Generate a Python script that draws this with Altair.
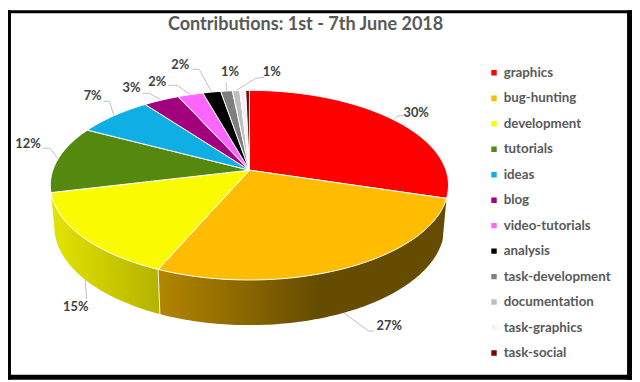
import math
import altair as alt

# ---- chart values
categories = ["graphics", "bug-hunting", "development", "tutorials", "ideas", "blog",
              "video-tutorials", "analysis", "task-development", "documentation",
              "task-graphics", "task-social"]
shares = [29.7, 26.8, 14.75, 11.45, 7.1, 3.4, 2.4, 1.7, 1.1, 0.7, 0.55, 0.35]
label_texts = ["30%", "27%", "15%", "12%", "7%", "3%", "2%", "2%", "1%", "1%"]
colors = ["#FF0000", "#FFBC00", "#FAFA00", "#54880F", "#0FAFE6", "#A3007E",
          "#FF66FF", "#000000", "#7F7F7F", "#BFBFBF", "#F2F2F2", "#7F0000"]
title_text = "Contributions: 1st - 7th June 2018"

# ---- layout of the tilted disc (page pixels)
OX, OY = 250.5, 168.0
A, B, K = 197.5, 92.6, 0.158
BX, BY0, BP = 0.98, 208.8, 1.04
M = 8
SX, SY = 0.992, 0.989   # the photographed page comes out slightly shrunk

def top(theta):
    t = math.radians(theta)
    w = 1 + K * math.cos(t)
    return (OX + A * math.sin(t) / w, OY - B * math.cos(t) / w)

def bottom(theta):
    t = math.radians(theta)
    w = 1 + K * math.cos(t)
    return (OX + BX * A * math.sin(t) / w, BY0 - BP * B * math.cos(t) / w)

def loc(p):
    return [p[0] / SX - M, p[1] / SY - M]

def arc(fn, a, b, step=1.0):
    n = max(2, int(abs(b - a) / step) + 1)
    return [fn(a + (b - a) * i / (n - 1)) for i in range(n)]

edges = [0.0]
for s in shares:
    edges.append(edges[-1] + s * 3.6 * 100 / sum(shares))

def feature(kind, pts, name=None):
    coords = [loc(p) for p in pts]
    geom = ({"type": "Polygon", "coordinates": [coords + [coords[0]]]} if kind == "poly"
            else {"type": "LineString", "coordinates": coords})
    return {"type": "Feature", "geometry": geom, "properties": {"name": name}}

def geo(features):
    return alt.InlineData(values={"type": "FeatureCollection", "features": features},
                          format=alt.DataFormat(type="json", property="features"))

projection = alt.Projection(type="identity", scale=1, translate=[0, 0])

# slices
slices = [feature("poly", [(OX, OY)] + arc(top, edges[i], edges[i + 1]), categories[i])
          for i in range(len(categories))]
slice_layer = alt.Chart(geo(slices)).mark_geoshape(stroke="#FFFFFF", strokeWidth=1).encode(
    color=alt.Color("properties.name:N",
                    scale=alt.Scale(domain=categories, range=colors),
                    sort=categories,
                    legend=alt.Legend(title=None, orient="none", legendX=485.5, legendY=55.5,
                                      symbolType="square", symbolSize=30, symbolStrokeWidth=0,
                                      labelFont="Lato", labelFontWeight="bold", labelFontSize=13.5,
                                      labelColor="#595959", rowPadding=9.8, labelOffset=3,
                                      clipHeight=15.5, columns=1)))

def wall(a, b):
    return feature("poly", arc(top, a, b) + arc(bottom, a, b)[::-1])

def grad(stops):
    return alt.LinearGradient(gradient="linear", x1=0, y1=0, x2=1, y2=0,
                              stops=[alt.GradientStop(offset=o, color=c) for o, c in stops])

yellow_wall = alt.Chart(geo([wall(edges[2], edges[3])])).mark_geoshape(
    fill=grad([(0, "#E4E400"), (1, "#B3B300")]), strokeWidth=0)
orange_wall = alt.Chart(geo([wall(edges[1], edges[2])])).mark_geoshape(
    fill=grad([(0, "#B38600"), (0.55, "#664C00"), (1, "#664C00")]), strokeWidth=0)
seam = alt.Chart(geo([feature("line", [top(edges[2]), bottom(edges[2])])])).mark_geoshape(
    filled=False, stroke="#F4F4E0", strokeWidth=1)

# leader lines and value labels
mids = [(edges[i] + edges[i + 1]) / 2 for i in range(len(label_texts))]
anchors = [bottom(m) if 90 < m < 257 else top(m) for m in mids]
label_pos = [(418, 110.5), (391, 324), (76, 305), (28, 142), (93, 94),
             (132, 86), (158, 79.5), (181, 63), (231, 70), (273, 70)]
knees = [(399, 114), (370, 329), (87, 297), (50, 146), (110, 99),
         (150, 91), (178, 83), (200, 67), (227, 80), (257, 76)]
ends = [(405, 113), (376, 329), (87, 297), (43, 146), (104, 99),
        (143, 91), (169, 83), (193, 67), (227, 80), (265, 75)]

leaders = [feature("line", [anchors[i], knees[i], ends[i]]) for i in range(len(label_texts))]
leader_layer = alt.Chart(geo(leaders)).mark_geoshape(filled=False, stroke="#BFBFBF", strokeWidth=1)

label_rows = [dict(t=label_texts[i], lon=loc(label_pos[i])[0], lat=loc(label_pos[i])[1])
              for i in range(len(label_texts))]
label_layer = alt.Chart(alt.Data(values=label_rows)).mark_text(
    font="Lato", fontWeight="bold", fontSize=13, color="#404040").encode(
    longitude="lon:Q", latitude="lat:Q", text="t:N")

# picture frame
frame_rows = [dict(x=0, x2=3, y=0, y2=374), dict(x=0, x2=632, y=0, y2=3),
              dict(x=627, x2=632, y=0, y2=374), dict(x=0, x2=632, y=369, y2=374)]
frame = alt.Chart(alt.Data(values=frame_rows)).mark_rect(color="#000000").encode(
    x=alt.X("x:Q", scale=None), x2="x2:Q", y=alt.Y("y:Q", scale=None), y2="y2:Q")

chart = alt.layer(frame, leader_layer, yellow_wall, orange_wall, seam, slice_layer, label_layer,
                  projection=projection).resolve_scale(x="independent", y="independent").properties(
    width=632, height=374, padding=0, autosize=alt.AutoSizeParams(type="none"),
    background="#FFFFFF",
    title=alt.TitleParams(title_text, font="Lato", fontWeight="bold", fontSize=18.3,
                          color="#595959", anchor="start", dx=162, dy=38, offset=0,
                          baseline="alphabetic", frame="group")
).configure_view(stroke=None)

chart.save("out.html", embed_options={"renderer": "svg", "actions": False})
